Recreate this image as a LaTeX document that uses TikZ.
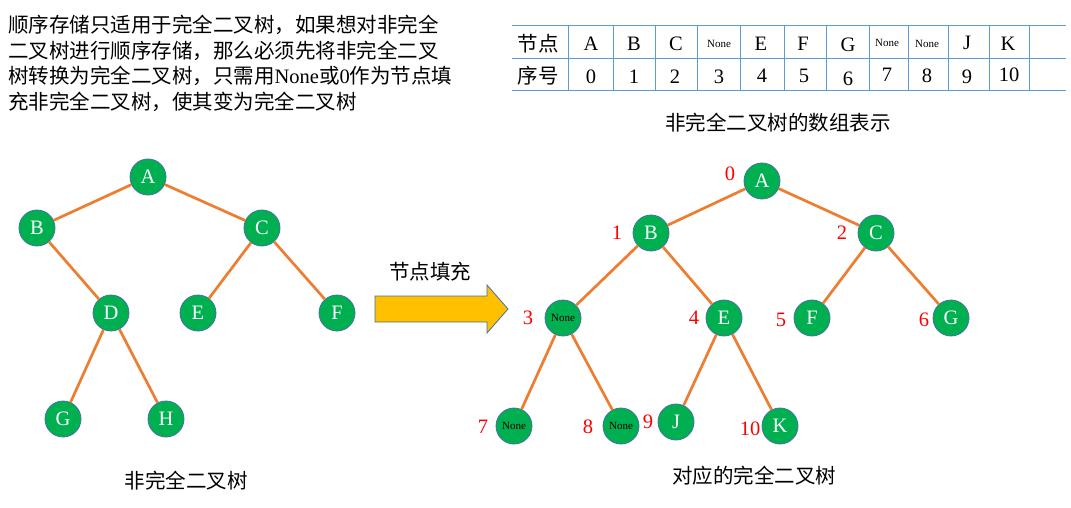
\documentclass[tikz,border=0pt]{standalone}
\usepackage{fontspec}
\setmainfont{Liberation Serif}
\newfontfamily\cjk{Noto Sans CJK SC}
\usetikzlibrary{positioning}
\definecolor{treeGreen}{HTML}{00B050}
\definecolor{treeEdge}{HTML}{ED7D31}
\definecolor{treeRing}{HTML}{41719C}
\definecolor{gridBlue}{HTML}{5B9BD5}
\definecolor{fillArrow}{HTML}{FFC000}

\begin{document}
\begin{tikzpicture}[
            x=1pt, y=-1pt,
            tnode/.style={
                circle,
                draw=treeRing,
                line width=0.8pt,
                fill=treeGreen,
                minimum size=36pt,
                inner sep=0pt,
                text=white,
                font=\fontsize{20.5}{20.5}\selectfont
            },
            nonenode/.style={tnode, text=black, font=\fontsize{11}{11}\selectfont},
            treeline/.style={draw=treeEdge, line width=2.7pt},
            idx/.style={text=red, inner sep=0pt, font=\fontsize{20.5}{20.5}\selectfont},
            cjktext/.style={inner sep=0pt, font=\cjk\fontsize{20.5}{25.5}\selectfont},
            cell/.style={inner sep=0pt, font=\fontsize{20.5}{20.5}\selectfont},
            smallcell/.style={inner sep=0pt, font=\fontsize{11}{11}\selectfont},
            gridline/.style={draw=gridBlue, line width=1pt},
            fatarrow/.style={fill=fillArrow, draw=treeRing, line width=0.8pt}
        ]
        \useasboundingbox (0,0) rectangle (1071,508);

        %---------------- Intro text ----------------%
        \node[cjktext, anchor=north west, align=left] (intro) at (8,15)
            {顺序存储只适用于完全二叉树，如果想对非完全\\
             二叉树进行顺序存储，那么必须先将非完全二叉\\
             树转换为完全二叉树，只需用{\rmfamily None}或{\rmfamily 0}作为节点填\\
             充非完全二叉树，使其变为完全二叉树};

        %---------------- Array table ----------------%
        \draw[gridline] (512,26) -- (1066,26);
        \draw[gridline] (512,59) -- (1066,59);
        \draw[gridline] (512,91) -- (1066,91);
        \foreach \xv in {568,613,655,697,740,784,826,869,908,948,989,1029}
            \draw[gridline] (\xv,26) -- (\xv,91);

        \node[cjktext] (hnode) at (538,44) {节点};
        \node[cjktext] (hidx) at (538,76) {序号};
        \node[cell] (tA) at (591,44) {A};
        \node[cell] (tB) at (634,44) {B};
        \node[cell] (tC) at (676,44) {C};
        \node[smallcell] (t3) at (719,44) {None};
        \node[cell] (tE) at (761,44) {E};
        \node[cell] (tF) at (803,44) {F};
        \node[cell] (tG) at (848,45) {G};
        \node[smallcell] (t7) at (887,43) {None};
        \node[smallcell] (t8) at (927,44) {None};
        \node[cell] (tJ) at (967,43) {J};
        \node[cell] (tK) at (1008,44) {K};
        \node[cell] (n0) at (591,77) {0};
        \node[cell] (n1) at (634,77) {1};
        \node[cell] (n2) at (675,77) {2};
        \node[cell] (n3) at (719,77) {3};
        \node[cell] (n4) at (762,76) {4};
        \node[cell] (n5) at (804,76) {5};
        \node[cell] (n6) at (848,79) {6};
        \node[cell] (n7) at (887,75) {7};
        \node[cell] (n8) at (927,76) {8};
        \node[cell] (n9) at (967,77) {9};
        \node[cell] (n10) at (1009,75) {10};

        \node[cjktext] (arraycap) at (778,123) {非完全二叉树的数组表示};

        %---------------- Left tree ----------------%
        \node[tnode] (lA) at (148,177) {A};
        \node[tnode] (lB) at (37,228) {B};
        \node[tnode] (lC) at (262,228) {C};
        \node[tnode] (lD) at (111,313) {D};
        \node[tnode] (lE) at (198,313) {E};
        \node[tnode] (lF) at (337,313) {F};
        \node[tnode] (lG) at (63,419) {G};
        \node[tnode] (lH) at (166,419) {H};

        \draw[treeline] (lA) -- (lB);
        \draw[treeline] (lA) -- (lC);
        \draw[treeline] (lB) -- (lD);
        \draw[treeline] (lC) -- (lE);
        \draw[treeline] (lC) -- (lF);
        \draw[treeline] (lD) -- (lG);
        \draw[treeline] (lD) -- (lH);

        \node[cjktext] (leftcap) at (186,481) {非完全二叉树};

        %---------------- Fill arrow ----------------%
        \node[cjktext] (filllabel) at (430,272) {节点填充};
        \draw[fatarrow] (375,296) -- (487,296) -- (487,285) -- (508,309)
            -- (487,333) -- (487,322) -- (375,322) -- cycle;

        %---------------- Right tree ----------------%
        \node[tnode] (rA) at (762,181) {A};
        \node[tnode] (rB) at (651,233) {B};
        \node[tnode] (rC) at (876,233) {C};
        \node[nonenode] (r3) at (563,318) {None};
        \node[tnode] (rE) at (724,318) {E};
        \node[tnode] (rF) at (812,318) {F};
        \node[tnode] (rG) at (951,318) {G};
        \node[nonenode] (r7) at (514,426) {None};
        \node[nonenode] (r8) at (621,426) {None};
        \node[tnode] (rJ) at (676,422) {J};
        \node[tnode] (rK) at (780,426) {K};

        \draw[treeline] (rA) -- (rB);
        \draw[treeline] (rA) -- (rC);
        \draw[treeline] (rB) -- (r3);
        \draw[treeline] (rB) -- (rE);
        \draw[treeline] (rC) -- (rF);
        \draw[treeline] (rC) -- (rG);
        \draw[treeline] (r3) -- (r7);
        \draw[treeline] (r3) -- (r8);
        \draw[treeline] (rE) -- (rJ);
        \draw[treeline] (rE) -- (rK);

        %================ Index labels =================%
        \node[idx] (i0) at (730,174) {0};
        \node[idx] (i1) at (617,233) {1};
        \node[idx] (i2) at (842,233) {2};
        \node[idx] (i3) at (528,318) {3};
        \node[idx] (i4) at (694,318) {4};
        \node[idx] (i5) at (781,320) {5};
        \node[idx] (i6) at (924,320) {6};
        \node[idx] (i7) at (483,427) {7};
        \node[idx] (i8) at (588,427) {8};
        \node[idx] (i9) at (648,422) {9};
        \node[idx] (i10) at (750,429) {10};

        \node[cjktext] (rightcap) at (754,476) {对应的完全二叉树};

        \end{tikzpicture}
\end{document}
